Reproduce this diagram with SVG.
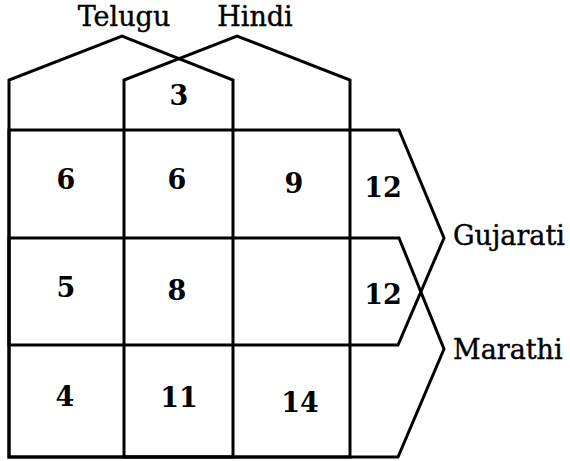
<svg xmlns="http://www.w3.org/2000/svg" width="570" height="461" viewBox="0 0 570 461">
<style>
.set{fill:none;stroke:#000;stroke-width:3;stroke-linejoin:miter}
.lbl{font-family:"DejaVu Serif","Liberation Serif",serif;font-size:27px;fill:#000;stroke:#000;stroke-width:0.4}
.num{font-family:"DejaVu Serif","Liberation Serif",serif;font-size:27px;font-weight:bold;fill:#000;text-anchor:middle}
</style>
<rect width="570" height="461" fill="#fff"/>
<g id="telugu">
<polygon class="set" points="9,457 9,80 122,36 233,80 233,457"/>
<text class="lbl" x="124" y="26" text-anchor="middle">Telugu</text>
</g>
<g id="hindi">
<polygon class="set" points="124,457 124,80 237,36 350,80 350,457"/>
<text class="lbl" x="255" y="26" text-anchor="middle">Hindi</text>
</g>
<g id="gujarati">
<polygon class="set" points="9,130 399,130 444,238 398,345 9,345"/>
<text class="lbl" x="453" y="245">Gujarati</text>
</g>
<g id="marathi">
<polygon class="set" points="9,238 399,238 444,349 398,457 9,457"/>
<text class="lbl" x="453" y="359">Marathi</text>
</g>
<g id="counts">
<text class="num" x="179" y="105">3</text>
<text class="num" x="66" y="189">6</text>
<text class="num" x="177" y="189">6</text>
<text class="num" x="294" y="193">9</text>
<text class="num" x="383" y="197">12</text>
<text class="num" x="66" y="297">5</text>
<text class="num" x="177" y="300">8</text>
<text class="num" x="383" y="304">12</text>
<text class="num" x="65" y="406">4</text>
<text class="num" x="179" y="407">11</text>
<text class="num" x="300" y="412">14</text>
</g>
</svg>
